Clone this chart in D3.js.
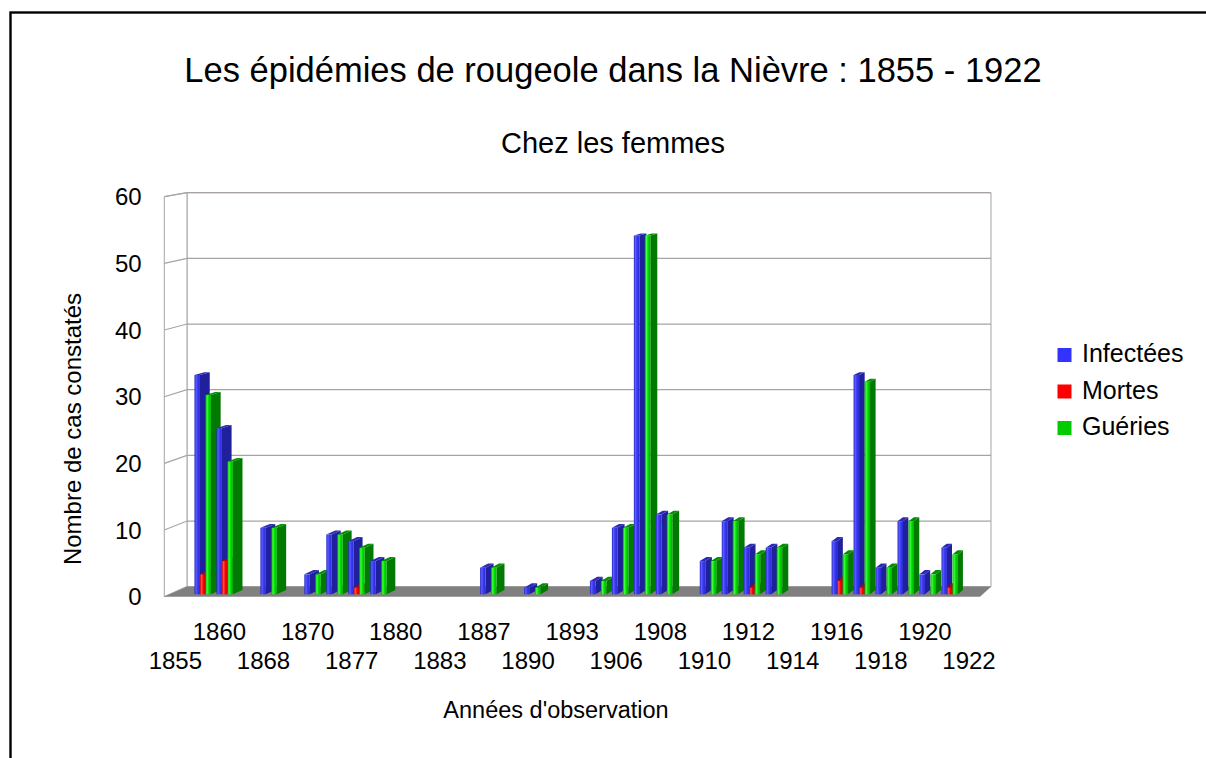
<!DOCTYPE html>
<html>
<head>
<meta charset="utf-8">
<script src="https://cdn.jsdelivr.net/npm/d3@7"></script>
<style>
  html, body { margin: 0; padding: 0; background: #fff; }
  svg { display: block; font-family: "Liberation Sans", Arial, sans-serif; }
</style>
</head>
<body>
<svg id="chart" width="1206" height="758"></svg>
<script>
// ---- data ----
// every other category carries a visible label (Excel label interval = 2)
const categories = ["1855","1857","1860","1865","1868","1869","1870","1875","1877","1879",
                    "1880","1882","1883","1885","1887","1889","1890","1892","1893","1900",
                    "1906","1907","1908","1909","1910","1911","1912","1913","1914","1915",
                    "1916","1917","1918","1919","1920","1921","1922"];
const infectees = [null,33,25,null,10,null,3,9,8,5,
                   null,null,null,null,4,null,1,null,null,2,
                   10,54,12,null,5,11,7,7,null,null,
                   8,33,4,11,3,7,null];
const mortes    = [null,3,5,null,0,null,0,0,1,0,
                   null,null,null,null,0,null,0,null,null,0,
                   0,0,0,null,0,0,1,0,null,null,
                   2,1,0,0,0,1,null];
const gueries   = [null,30,20,null,10,null,3,9,7,5,
                   null,null,null,null,4,null,1,null,null,2,
                   10,54,12,null,5,11,6,7,null,null,
                   6,32,4,11,3,6,null];
const seriesNames = ["Infectées","Mortes","Guéries"];
const yTicks = [0,10,20,30,40,50,60];

const seriesValues = [infectees, mortes, gueries];
const colors = {
  "Infectées": {front:["#2626c0","#5c5cff","#3838f4","#2a2ad0"], side:"#20209c", top:"#2b2bb8", legend:"#3333ff"},
  "Mortes":    {front:["#c80000","#ff5050","#ff0000","#d40000"], side:"#a00000", top:"#c00000", legend:"#ff0000"},
  "Guéries":   {front:["#00a000","#40ff40","#00dd00","#00b000"], side:"#007a00", top:"#009000", legend:"#00cc00"}
};

const svg = d3.select("#chart");
const defs = svg.append("defs");
seriesNames.forEach((s,i) => {
  const g = defs.append("linearGradient").attr("id","grad"+i)
    .attr("x1","0").attr("x2","1").attr("y1","0").attr("y2","0");
  const c = colors[s].front;
  g.append("stop").attr("offset","0").attr("stop-color",c[0]);
  g.append("stop").attr("offset","0.3").attr("stop-color",c[1]);
  g.append("stop").attr("offset","0.6").attr("stop-color",c[2]);
  g.append("stop").attr("offset","1").attr("stop-color",c[3]);
});

// outer border
svg.append("rect").attr("x",10.5).attr("y",12.5).attr("width",1400).attr("height",900)
  .attr("fill","none").attr("stroke","#000").attr("stroke-width",2.4);

// ---- scales & 3D projection ----
const x0 = d3.scaleBand().domain(categories).range([0,1]).paddingInner(0).paddingOuter(0);
const x1 = d3.scaleBand().domain(seriesNames).range([0,x0.bandwidth()]).paddingInner(0).paddingOuter(0.5);
const xFront = d3.scaleLinear().domain([0,1]).range([164.3,980]);
const xBack  = d3.scaleLinear().domain([0,1]).range([187,991]);
const yFront = d3.scaleLinear().domain([0,60]).range([596.7,196.7]);
const yBack  = d3.scaleLinear().domain([0,60]).range([586.7,192.7]);
function P(u, v, d) {
  const xf = xFront(u), xb = xBack(u), yf = yFront(v), yb = yBack(v);
  return [xf + (xb - xf) * d, yf + (yb - yf) * d];
}
const poly = pts => pts.map(p => p.join(",")).join(" ");

const gridColor = "#a9a3a3";
const walls = svg.append("g");
// back wall
walls.append("polygon").attr("points", poly([P(0,0,1),P(1,0,1),P(1,60,1),P(0,60,1)]))
  .attr("fill","#fff").attr("stroke",gridColor).attr("stroke-width",1);
// left wall
walls.append("polygon").attr("points", poly([P(0,0,0),P(0,0,1),P(0,60,1),P(0,60,0)]))
  .attr("fill","#fff").attr("stroke",gridColor).attr("stroke-width",1);
// gridlines
yTicks.forEach(v => {
  walls.append("polyline").attr("points", poly([P(0,v,0),P(0,v,1),P(1,v,1)]))
    .attr("fill","none").attr("stroke",gridColor).attr("stroke-width",1.2);
});
// floor
walls.append("polygon").attr("points", poly([P(0,0,0),P(1,0,0),P(1,0,1),P(0,0,1)]))
  .attr("fill","#808080");

// ---- bars ----
const d0 = 0.24, d1 = 0.68;
const bars = svg.append("g");
categories.forEach((cat, ci) => {
  seriesNames.forEach((s, si) => {
    const v = seriesValues[si][ci];
    if (v === null || v === 0) return;
    const ua = x0(cat) + x1(s);
    const ub = ua + x1.bandwidth();
    const c = colors[s];
    bars.append("polygon").attr("points", poly([P(ub,0,d0),P(ub,0,d1),P(ub,v,d1),P(ub,v,d0)]))
      .attr("fill", c.side);
    bars.append("polygon").attr("points", poly([P(ua,v,d0),P(ub,v,d0),P(ub,v,d1),P(ua,v,d1)]))
      .attr("fill", c.top);
    bars.append("polygon").attr("points", poly([P(ua,0,d0),P(ub,0,d0),P(ub,v,d0),P(ua,v,d0)]))
      .attr("fill", "url(#grad"+si+")");
  });
});

// ---- axes text ----
const fontTick = 24;
const ax = svg.append("g").attr("fill","#000");
yTicks.forEach(v => {
  ax.append("text").attr("x",141.7).attr("y",yFront(v)).attr("dy","0.36em")
    .attr("text-anchor","end").attr("font-size",fontTick).text(v);
});
categories.forEach((cat, ci) => {
  if (ci % 2 !== 0) return;
  const i = ci / 2;
  const [xc] = P(x0(cat) + x0.bandwidth()/2, 0, 0);
  ax.append("text").attr("x", xc).attr("y", i % 2 === 1 ? 640 : 668.5)
    .attr("text-anchor","middle").attr("font-size",fontTick).text(cat);
});

// titles
svg.append("text").attr("x",613).attr("y",82).attr("text-anchor","middle")
  .attr("font-size",34.5).text("Les épidémies de rougeole dans la Nièvre : 1855 - 1922");
svg.append("text").attr("x",613).attr("y",153).attr("text-anchor","middle")
  .attr("font-size",29).text("Chez les femmes");
svg.append("text").attr("x",556).attr("y",718).attr("text-anchor","middle")
  .attr("font-size",23.5).text("Années d'observation");
svg.append("text").attr("transform","translate(81,429) rotate(-90)").attr("text-anchor","middle")
  .attr("font-size",24).text("Nombre de cas constatés");

// legend
const leg = svg.append("g");
seriesNames.forEach((s, i) => {
  const y = 362 + i * 36.5;
  leg.append("rect").attr("x",1057.5).attr("y",y-14).attr("width",14).attr("height",14)
    .attr("fill",colors[s].legend);
  leg.append("text").attr("x",1082).attr("y",y).attr("font-size",25).text(s);
});
</script>
</body>
</html>
